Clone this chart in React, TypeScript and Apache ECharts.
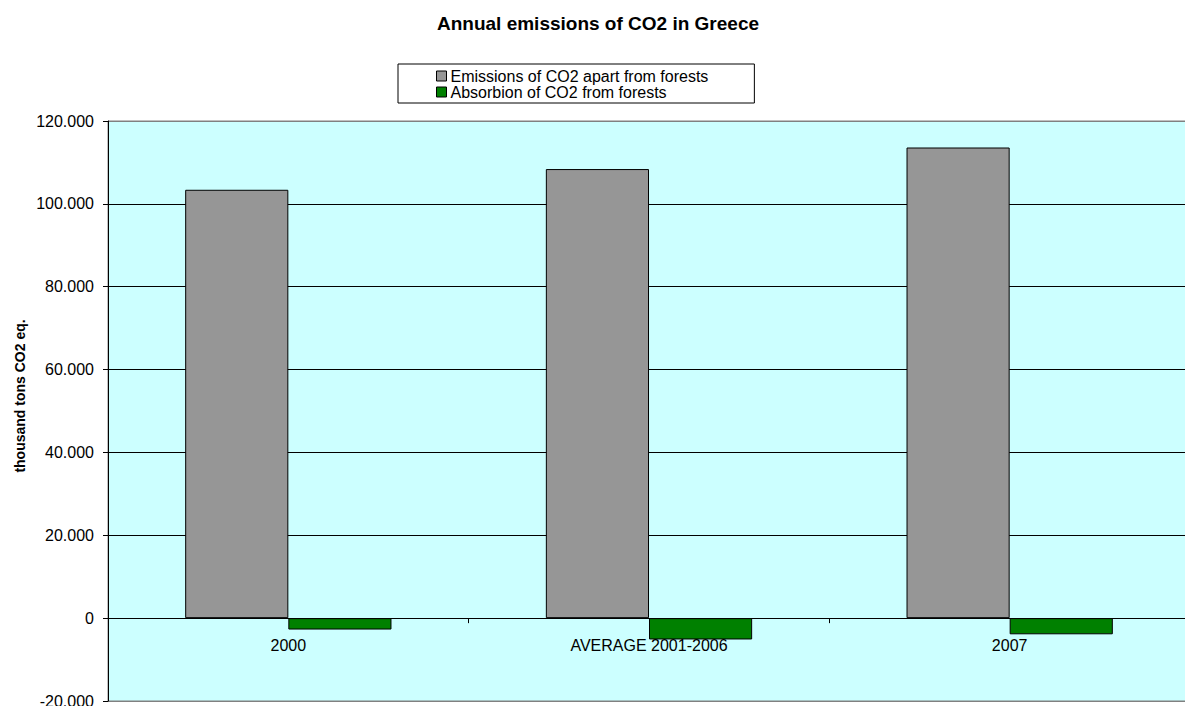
import React, { useEffect, useRef } from "react";
import * as echarts from "echarts";

// Categories and values (thousand tons CO2 eq.)
const categories = ["2000", "AVERAGE 2001-2006", "2007"];
const emissionsApartFromForests = [103400, 108400, 113600];
const absorptionFromForests = [-2750, -5150, -3900];
const seriesNames = [
  "Emissions of CO2 apart from forests",
  "Absorbion of CO2 from forests",
];
const yTicks = { min: -20000, max: 120000, interval: 20000 };
const titleText = "Annual emissions of CO2 in Greece";
const yAxisTitle = "thousand tons CO2 eq.";

const FONT = "'Liberation Sans', Arial, sans-serif";
const GRID_HEIGHT = 580;

// 120000 -> "120.000", 0 -> "0"
const formatThousands = (v: number): string => {
  if (v === 0) return "0";
  const sign = v < 0 ? "-" : "";
  const s = Math.abs(Math.round(v)).toString();
  return sign + s.replace(/\B(?=(\d{3})+(?!\d))/g, ".");
};

export default function App() {
  const ref = useRef<HTMLDivElement>(null);

  useEffect(() => {
    if (!ref.current) return;
    const chart = echarts.init(ref.current, null, { renderer: "svg" });
    // the category axis sits on the value-axis zero line
    const zeroOffset =
      -GRID_HEIGHT * ((0 - yTicks.min) / (yTicks.max - yTicks.min));
    chart.setOption({
      animation: false,
      backgroundColor: "#ffffff",
      textStyle: { fontFamily: FONT },
      graphic: [
        {
          type: "text",
          x: 598,
          y: 23,
          style: {
            text: titleText,
            font: `bold 19px ${FONT}`,
            fill: "#000",
            textAlign: "center",
            textVerticalAlign: "middle",
          },
        },
        {
          type: "text",
          x: 20,
          y: 396,
          rotation: Math.PI / 2,
          style: {
            text: yAxisTitle,
            font: `bold 14px ${FONT}`,
            fill: "#000",
            textAlign: "center",
            textVerticalAlign: "middle",
          },
        },
      ],
      legend: {
        left: 398,
        top: 64,
        orient: "vertical",
        padding: [4, 46, 3, 38],
        borderColor: "#000",
        borderWidth: 1,
        backgroundColor: "#fff",
        itemWidth: 10,
        itemHeight: 10,
        itemGap: 0,
        selectedMode: false,
        icon: "rect",
        itemStyle: { borderColor: "#000", borderWidth: 1 },
        textStyle: {
          fontSize: 16,
          lineHeight: 15,
          color: "#000",
          fontFamily: FONT,
          padding: [0, 0, 0, -1],
        },
        data: seriesNames,
      },
      grid: {
        left: 108,
        top: 121,
        width: 1082,
        height: GRID_HEIGHT,
        show: true,
        backgroundColor: "#CCFFFF",
        borderColor: "#808080",
        borderWidth: 1,
        containLabel: false,
        outerBoundsMode: "none",
      },
      xAxis: {
        type: "category",
        data: categories,
        position: "bottom",
        offset: zeroOffset,
        axisLine: { onZero: false, lineStyle: { color: "#000", width: 1 } },
        axisTick: { show: true, length: 5, lineStyle: { color: "#000" } },
        axisLabel: {
          margin: 19,
          fontSize: 16,
          color: "#000",
          fontFamily: FONT,
        },
        splitLine: { show: false },
      },
      yAxis: {
        type: "value",
        min: yTicks.min,
        max: yTicks.max,
        interval: yTicks.interval,
        axisLine: { show: true, lineStyle: { color: "#000", width: 1 } },
        axisTick: { show: true, length: 5, lineStyle: { color: "#000" } },
        axisLabel: {
          margin: 14,
          fontSize: 16,
          color: "#000",
          fontFamily: FONT,
          formatter: (v: number) => formatThousands(v),
        },
        splitLine: {
          show: true,
          lineStyle: {
            color: [
              "#808080",
              "#000",
              "#000",
              "#000",
              "#000",
              "#000",
              "#000",
              "#808080",
            ],
            width: 1,
          },
        },
      },
      series: [
        {
          name: seriesNames[0],
          type: "bar",
          data: emissionsApartFromForests,
          barGap: "0%",
          barCategoryGap: "42.8%",
          itemStyle: { color: "#969696", borderColor: "#000", borderWidth: 1 },
        },
        {
          name: seriesNames[1],
          type: "bar",
          data: absorptionFromForests,
          barGap: "0%",
          barCategoryGap: "42.8%",
          itemStyle: { color: "#008000", borderColor: "#000", borderWidth: 1 },
        },
      ],
    });
    return () => chart.dispose();
  }, []);

  return (
    <div
      ref={ref}
      style={{ position: "absolute", left: 0, top: 0, width: 1185, height: 706 }}
    />
  );
}
